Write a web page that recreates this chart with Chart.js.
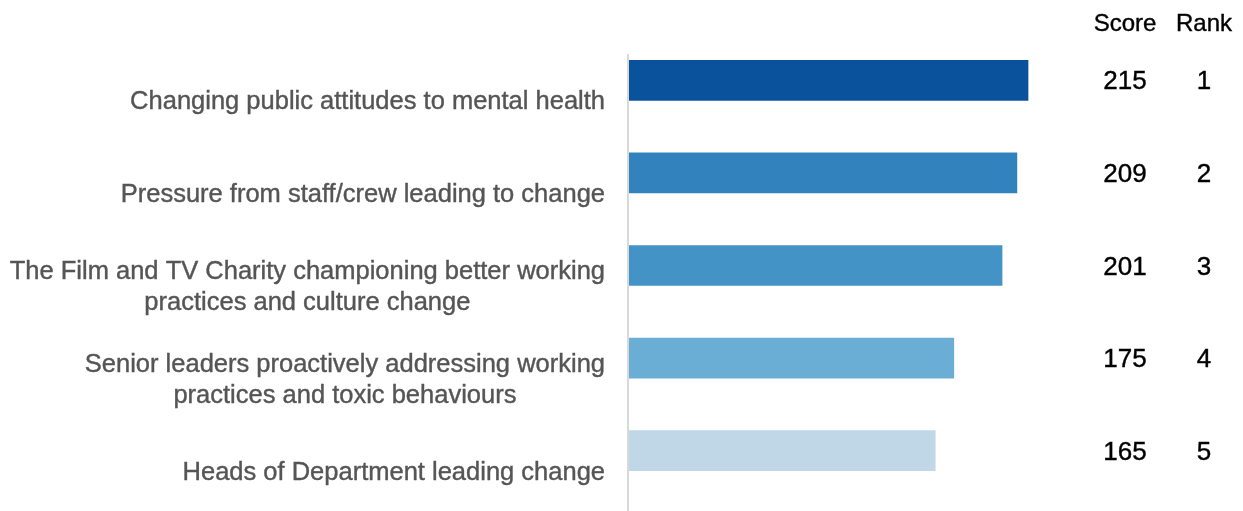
<!DOCTYPE html>
<html>
<head>
<meta charset="utf-8">
<script src="https://cdn.jsdelivr.net/npm/chart.js@4"></script>
<style>
  html, body { margin: 0; padding: 0; background: #fff; }
  #wrap { position: relative; width: 1243px; height: 511px; }
</style>
</head>
<body>
<div id="wrap"><canvas id="chart"></canvas></div>
<script>
// Categories, each split into the lines it is printed on
const categories = [
  ['Changing public attitudes to mental health'],
  ['Pressure from staff/crew leading to change'],
  ['The Film and TV Charity championing better working', 'practices and culture change'],
  ['Senior leaders proactively addressing working', 'practices and toxic behaviours'],
  ['Heads of Department leading change']
];
const scores = [215, 209, 201, 175, 165];
const ranks = [1, 2, 3, 4, 5];
const barColors = ['#0b529c', '#3283bd', '#4393c6', '#6aaed6', '#bfd7e6'];
const columnHeaders = ['Score', 'Rank'];

const FONT = '"Liberation Sans", Arial, sans-serif';

// Draws the category labels, the axis line and the score/rank columns
const sidePanel = {
  id: 'sidePanel',
  afterDraw(chart) {
    const { ctx, chartArea, scales } = chart;
    const y = scales.y;

    ctx.save();
    // vertical axis line
    ctx.strokeStyle = '#d9d9d9';
    ctx.lineWidth = 2;
    ctx.beginPath();
    ctx.moveTo(chartArea.left - 1, chartArea.top + 20);
    ctx.lineTo(chartArea.left - 1, chart.height);
    ctx.stroke();

    // category labels: block right-aligned, lines centred inside the block
    ctx.font = '25.5px ' + FONT;
    ctx.fillStyle = '#555555';
    ctx.strokeStyle = '#555555';
    ctx.lineWidth = 0.4;
    ctx.textAlign = 'center';
    ctx.textBaseline = 'middle';
    const lineH = 31;
    const right = chartArea.left - 24;
    categories.forEach((lines, i) => {
      const cy = y.getPixelForValue(i) + 22;
      const w = Math.max(...lines.map(l => ctx.measureText(l).width));
      const cx = right - w / 2;
      const y0 = cy - (lines.length - 1) * lineH / 2;
      lines.forEach((l, j) => {
        ctx.fillText(l, cx, y0 + j * lineH);
        ctx.strokeText(l, cx, y0 + j * lineH);
      });
    });

    // score / rank columns
    const scoreX = chartArea.right + 32;
    const rankX = chartArea.right + 111;
    ctx.fillStyle = '#000';
    ctx.strokeStyle = '#000';
    ctx.font = '24px ' + FONT;
    ctx.fillText(columnHeaders[0], scoreX, 24);
    ctx.fillText(columnHeaders[1], rankX, 24);
    ctx.strokeText(columnHeaders[0], scoreX, 24);
    ctx.strokeText(columnHeaders[1], rankX, 24);
    ctx.font = '26px ' + FONT;
    scores.forEach((s, i) => {
      const cy = y.getPixelForValue(i) + 2;
      ctx.fillText(String(s), scoreX, cy);
      ctx.fillText(String(ranks[i]), rankX, cy);
      ctx.strokeText(String(s), scoreX, cy);
      ctx.strokeText(String(ranks[i]), rankX, cy);
    });
    ctx.restore();
  }
};

new Chart(document.getElementById('chart'), {
  type: 'bar',
  data: {
    labels: categories.map(l => l.join(' ')),
    datasets: [{
      data: scores,
      backgroundColor: barColors,
      barThickness: 40
    }]
  },
  options: {
    indexAxis: 'y',
    responsive: true,
    maintainAspectRatio: false,
    animation: false,
    layout: { padding: { top: 34, bottom: 14, left: 0, right: 150 } },
    plugins: {
      legend: { display: false },
      tooltip: { enabled: false }
    },
    scales: {
      x: {
        min: 0,
        max: 250,
        display: false
      },
      y: {
        grid: { display: false },
        border: { display: false },
        ticks: { display: false },
        afterFit(scale) { scale.width = 629; }
      }
    }
  },
  plugins: [sidePanel]
});
</script>
</body>
</html>
